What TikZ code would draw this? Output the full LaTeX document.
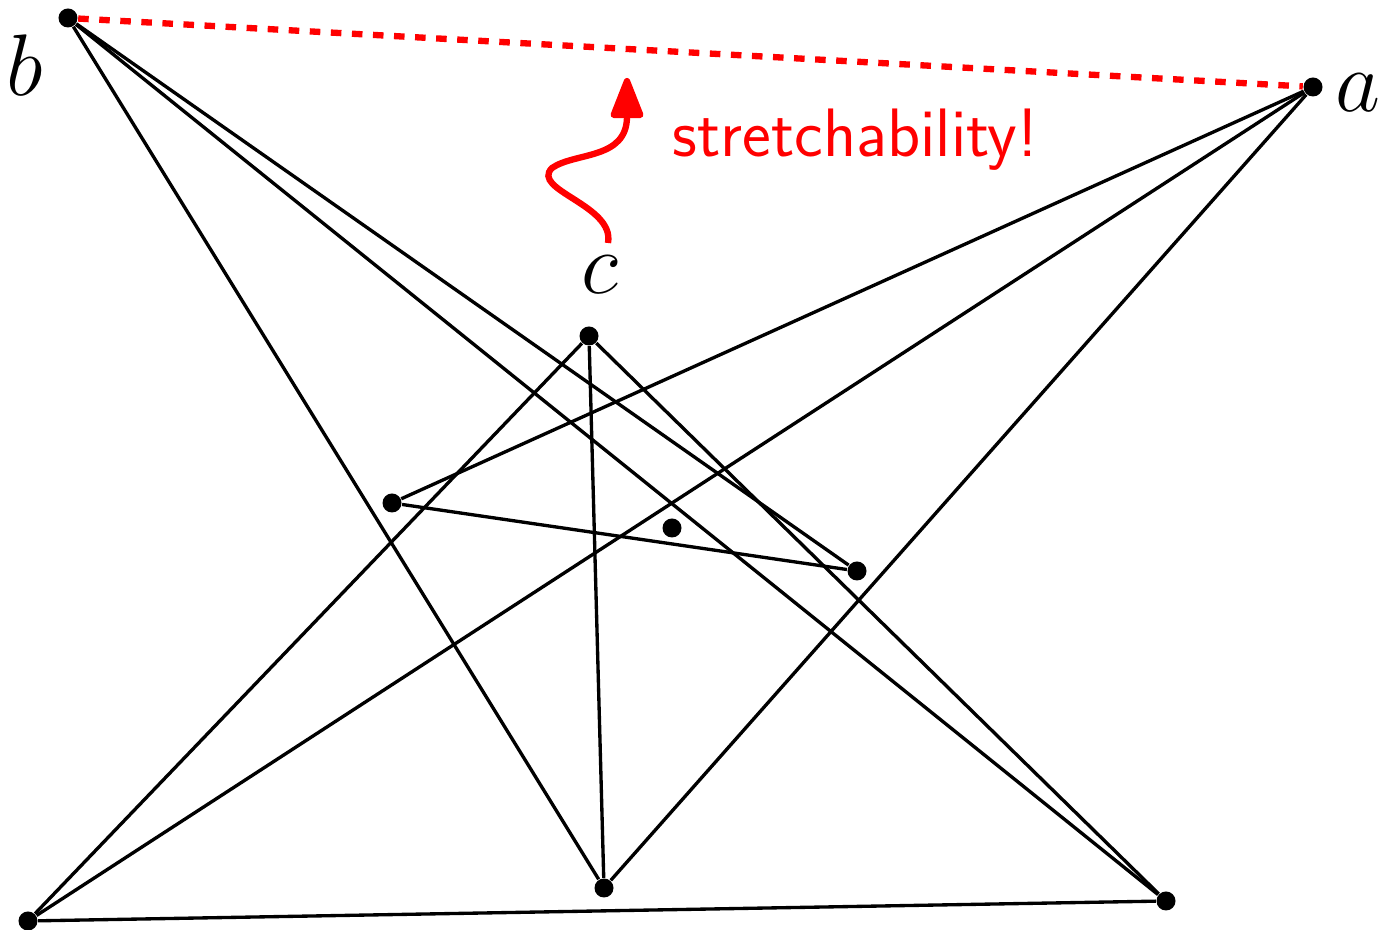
\documentclass[tikz,border=0pt]{standalone}
\usepackage{tikz}
\usetikzlibrary{arrows.meta}

\begin{document}
\begin{tikzpicture}[
  pt/.style={circle, fill=black, inner sep=0pt, minimum size=0.19cm},
  lbl/.style={font=\fontsize{23}{27}\selectfont, inner sep=0pt},
  seg/.style={line width=0.95pt},
  >={Triangle[length=4.6mm,width=3.4mm,round]}
]
\useasboundingbox (0,0) rectangle (13.82,9.30);

\node[pt] (b)  at (0.68,9.12) {};
\node[pt] (a)  at (13.13,8.43) {};
\node[pt] (c)  at (5.89,5.94) {};
\node[pt] (p)  at (3.92,4.27) {};
\node[pt] (q)  at (8.57,3.59) {};
\node[pt] (m)  at (6.72,4.02) {};
\node[pt] (bl) at (0.28,0.09) {};
\node[pt] (bm) at (6.04,0.42) {};
\node[pt] (br) at (11.66,0.29) {};

\node[lbl] (lb) at (0.25,8.65) {$b$};
\node[lbl] (la) at (13.58,8.37) {$a$};
\node[lbl] (lc) at (6.00,6.55) {$c$};

% the drawing
\draw[seg] (b)--(q); \draw[seg] (b)--(br); \draw[seg] (b)--(bm);
\draw[seg] (a)--(p); \draw[seg] (a)--(bl); \draw[seg] (a)--(bm);
\draw[seg] (c)--(bl); \draw[seg] (c)--(bm); \draw[seg] (c)--(br);
\draw[seg] (p)--(q);
\draw[seg] (bl)--(br);

% the missing edge
\draw[red, dashed, line width=1.8pt] (b)--(a);

% wiggly pointer
\coordinate (w0) at (6.08,6.87);
\coordinate (w1) at (5.52,7.62);
\coordinate (w2) at (6.27,8.52);
\draw[red, line width=1.8pt, ->] (w0) .. controls (6.15,7.25) and (5.3,7.4) .. (w1)
  .. controls (5.75,7.78) and (6.27,7.7) .. (w2);
\node[red, anchor=base west, inner sep=0pt, font=\fontsize{19.5}{23}\selectfont\sffamily] (st) at (6.72,7.73) {stretchability!};
\end{tikzpicture}
\end{document}
